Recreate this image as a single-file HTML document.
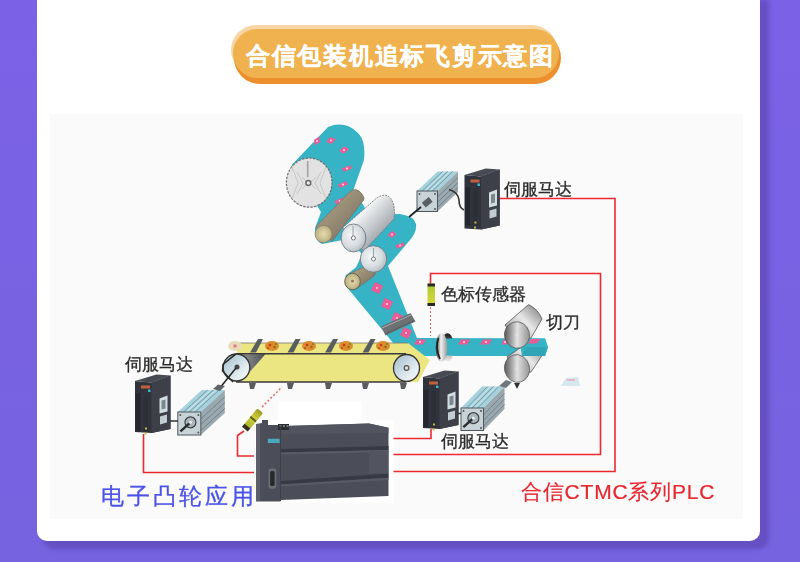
<!DOCTYPE html>
<html><head><meta charset="utf-8">
<style>
html,body{margin:0;padding:0;}
body{width:800px;height:562px;overflow:hidden;position:relative;background:linear-gradient(180deg,#7b61e6 0%,#7663df 100%);font-family:"Liberation Sans",sans-serif;}
.shadow{position:absolute;left:43px;top:0;width:726px;height:549px;background:#6450c2;border-radius:0 0 11px 11px;filter:blur(2px);}
.card{position:absolute;left:37px;top:-20px;width:723px;height:561px;background:#fff;border-radius:10px;}
.pill-hl{position:absolute;left:230.5px;top:25px;width:326px;height:50px;border-radius:25px;background:#f6d6a4;}
.pill-sh{position:absolute;left:234px;top:32px;width:327px;height:51.5px;border-radius:26px;background:#ec8f2d;}
.pill{position:absolute;left:232.7px;top:29.3px;width:326px;height:49.2px;border-radius:24.6px;background:#efb24f;}
.title{position:absolute;left:234.5px;top:29.5px;width:330px;height:52px;line-height:52px;text-align:center;color:#fff;font-weight:bold;font-size:24px;letter-spacing:1.75px;text-indent:1.75px;-webkit-text-stroke:0.25px #fff;}
.panel{position:absolute;left:50px;top:114px;width:693px;height:405px;background:#fafafa;}
svg{position:absolute;left:0;top:0;}
.t{position:absolute;white-space:nowrap;line-height:1;}
.lbl{color:#2a2a2a;font-size:16.5px;-webkit-text-stroke:0.3px #2a2a2a;}
body>div.t{will-change:transform;}
</style></head><body>
<div class="shadow"></div>
<div class="card"></div>
<div class="pill-hl"></div>
<div class="pill-sh"></div>
<div class="pill"></div>
<div class="title">合信包装机追标飞剪示意图</div>
<div class="panel"></div>
<svg width="800" height="562" viewBox="0 0 800 562">
<defs>
  <linearGradient id="pul" x1="0" y1="0" x2="1" y2="1"><stop offset="0" stop-color="#9fbccb"/><stop offset="0.7" stop-color="#e6eef2"/><stop offset="1" stop-color="#f4f7f8"/></linearGradient>
  <linearGradient id="tri" x1="0" y1="0" x2="1" y2="0"><stop offset="0" stop-color="#c4c4c4"/><stop offset="1" stop-color="#4e5054"/></linearGradient>
  <linearGradient id="silv" x1="0" y1="0" x2="1" y2="1">
    <stop offset="0" stop-color="#d9dcdf"/><stop offset="0.35" stop-color="#f0f2f3"/><stop offset="0.7" stop-color="#a9aeb3"/><stop offset="1" stop-color="#868b90"/>
  </linearGradient>
  <linearGradient id="gold" x1="0" y1="0" x2="1" y2="1">
    <stop offset="0" stop-color="#b9ae8c"/><stop offset="0.5" stop-color="#958a73"/><stop offset="1" stop-color="#6f6a60"/>
  </linearGradient>
  <radialGradient id="disc" cx="0.4" cy="0.4" r="0.7">
    <stop offset="0" stop-color="#f4f6f7"/><stop offset="0.6" stop-color="#d5dbdf"/><stop offset="1" stop-color="#a9b2b8"/>
  </radialGradient>
  <radialGradient id="gcap" cx="0.5" cy="0.5" r="0.6">
    <stop offset="0" stop-color="#e6dcae"/><stop offset="1" stop-color="#b1a576"/>
  </radialGradient>
  <linearGradient id="knife" x1="0" y1="0" x2="1" y2="0.3">
    <stop offset="0" stop-color="#3a3a3a"/><stop offset="0.3" stop-color="#8a8a8a"/><stop offset="0.6" stop-color="#e2e2e2"/><stop offset="1" stop-color="#a0a0a0"/>
  </linearGradient>
  <linearGradient id="kbody" x1="0" y1="1" x2="1" y2="0">
    <stop offset="0" stop-color="#4a4a4a"/><stop offset="0.3" stop-color="#bdbdbd"/><stop offset="0.55" stop-color="#e8e8e8"/><stop offset="0.8" stop-color="#a8a8a8"/><stop offset="1" stop-color="#6a6a6a"/>
  </linearGradient>
  <linearGradient id="ring" x1="0" y1="0" x2="1" y2="0">
    <stop offset="0" stop-color="#3a3a3a"/><stop offset="0.5" stop-color="#8a8a8a"/><stop offset="1" stop-color="#efefef"/>
  </linearGradient>
  <linearGradient id="sens" x1="0" y1="0" x2="0" y2="1">
    <stop offset="0" stop-color="#a9c935"/><stop offset="1" stop-color="#dcd83a"/>
  </linearGradient>
</defs>
<!-- red wires -->
<g fill="none" stroke="#ea2a30" stroke-width="1.6">
  <path d="M499,198.5 H615 V471.5 H392"/>
  <path d="M430.5,284 V273.5 H600.5 V454.5 H392"/>
  <path d="M431,429 V438.5 H392"/>
  <path d="M143.5,434 V472.5 H254"/>
  <path d="M244,431 L237.5,435.5 V456 H254"/>
</g>
<g fill="none" stroke="#e36060" stroke-width="1" stroke-dasharray="2,2">
  <path d="M430.5,307 V336"/>
  <path d="M262,407 L282,387" stroke-width="1.4"/>
</g>
<!-- web bands -->
<g fill="#36b4c5">
  <path d="M291.6,165 L328,127 Q345,120 358,133 Q366,141 364,160 L353,191 L362,203 L366,210 L350,232 L343,240 L322,244 Q314,240 315,228 L321,212 Z"/>
  <path d="M340,232 L372,214 L400,214 Q414,216 416,224 Q417,232 410,240 L388,266 L417,338 L545,338.5 L548,347.5 L545,356 L404,356 L345,285 L355,270 L362,254 Z"/>
</g>
<!-- pink marks -->
<g fill="#ea5c95">
<path d="M313.0,143.5 L315.0,138.5 L321.0,138.5 L319.0,143.5 Z" transform="rotate(-30 317 141)"/>
<path d="M327.0,143.5 L329.0,137.5 L335.0,137.5 L333.0,143.5 Z" transform="rotate(20 331 140.5)"/>
<path d="M340.5,153.5 L342.25,146.5 L347.5,146.5 L345.75,153.5 Z" transform="rotate(40 344 150)"/>
<path d="M344.5,173.0 L345.75,164.0 L349.5,164.0 L348.25,173.0 Z" transform="rotate(60 347 168.5)"/>
<path d="M340.5,189.0 L341.75,180.0 L345.5,180.0 L344.25,189.0 Z" transform="rotate(60 343 184.5)"/>
<path d="M337.0,205.5 L338.25,196.5 L342.0,196.5 L340.75,205.5 Z" transform="rotate(60 339.5 201)"/>
<path d="M374.5,234.5 L376.25,229.5 L381.5,229.5 L379.75,234.5 Z" transform="rotate(20 378 232)"/>
<path d="M388.5,237.5 L390.25,231.5 L395.5,231.5 L393.75,237.5 Z" transform="rotate(30 392 234.5)"/>
<path d="M397.5,249.6 L398.75,241.6 L402.5,241.6 L401.25,249.6 Z" transform="rotate(60 400 245.6)"/>
<rect x="372.5" y="283.5" width="9" height="9" transform="rotate(25 377 288)"/>
<rect x="382.5" y="299.5" width="9" height="9" transform="rotate(25 387 304)"/>
<rect x="392.5" y="313.5" width="9" height="9" transform="rotate(25 397 318)"/>
<rect x="401.5" y="328.5" width="9" height="9" transform="rotate(25 406 333)"/>
<path d="M414.0,344.5 L417.0,339.5 L426.0,339.5 L423.0,344.5 Z" transform="rotate(0 420 342)"/>
<path d="M458.0,344.5 L461.0,339.5 L470.0,339.5 L467.0,344.5 Z" transform="rotate(0 464 342)"/>
<path d="M480.0,344.5 L483.0,339.5 L492.0,339.5 L489.0,344.5 Z" transform="rotate(0 486 342)"/>
<path d="M501.5,344.5 L503.25,339.5 L508.5,339.5 L506.75,344.5 Z" transform="rotate(0 505 342)"/>
<path d="M528.0,344.0 L530.5,339.0 L538.0,339.0 L535.5,344.0 Z" transform="rotate(0 533 341.5)"/>
</g>
<g fill="#fff" opacity="0.75"><circle cx="317" cy="141" r="1"/><circle cx="331" cy="140.5" r="1"/><circle cx="344" cy="150" r="1"/><circle cx="347" cy="168.5" r="1"/><circle cx="343" cy="184.5" r="1"/><circle cx="339.5" cy="201" r="1"/><circle cx="378" cy="232" r="1"/><circle cx="392" cy="234.5" r="1"/><circle cx="400" cy="245.6" r="1"/><circle cx="377" cy="288" r="1"/><circle cx="387" cy="304" r="1"/><circle cx="397" cy="318" r="1"/><circle cx="406" cy="333" r="1"/><circle cx="420" cy="342" r="1"/><circle cx="464" cy="342" r="1"/><circle cx="486" cy="342" r="1"/><circle cx="505" cy="342" r="1"/><circle cx="533" cy="341.5" r="1"/></g>
<!-- top roll disc -->
<ellipse cx="309.2" cy="182.6" rx="22.8" ry="24.6" fill="#e2e2e2" stroke="#6e6e6e" stroke-width="1.2" stroke-dasharray="2.5,1.2"/>
<g stroke="#c2c2c2" stroke-width="0.9" fill="none">
  <path d="M302,177 L308,183 L302,189"/><path d="M316,177 L310,183 L316,189"/><path d="M297,172 L303,183 L297,194"/><path d="M321,172 L315,183 L321,194"/><path d="M292,167 L298,183 L292,199"/><path d="M326,167 L320,183 L326,199"/>
</g>
<line x1="307.7" y1="161" x2="307.7" y2="177" stroke="#a8a8a8" stroke-width="1.8"/>
<circle cx="308.3" cy="183" r="2.4" fill="#eee" stroke="#666" stroke-width="1.5"/>
<!-- gold roller 1 -->
<path d="M316,226.6 L349,192.4 Q356,186 362,194 Q366,199 362,202 L332,241.5 Z" fill="url(#gold)" stroke="#6d6a62" stroke-width="0.6"/>
<ellipse cx="323.5" cy="234" rx="8.5" ry="8.6" fill="url(#gcap)" stroke="#7a7560" stroke-width="0.6"/>
<!-- silver roller 2 -->
<path d="M342.7,227.7 L376.9,197.8 Q390,190 394,206 Q395,214 394,219 L364,251 Z" fill="url(#silv)" stroke="#6b6f73" stroke-width="0.8" stroke-dasharray="2,1"/>
<ellipse cx="353.5" cy="238" rx="12.4" ry="14" fill="url(#disc)" stroke="#6b6f73" stroke-width="0.8"/>
<line x1="353" y1="226" x2="353" y2="236" stroke="#9aa3a8" stroke-width="1"/>
<circle cx="353.4" cy="238" r="2" fill="#fff" stroke="#777" stroke-width="1"/>
<!-- gold roller 4 -->
<path d="M345,276 L360.5,263.8 L376,268 L372,276 L358,290 Z" fill="#36b4c5"/>
<path d="M349,274 L366,266 Q375,264 376,271 Q376,276 370,279 L356,289 Z" fill="url(#gold)" stroke="#6d6a62" stroke-width="0.6"/>
<ellipse cx="352.5" cy="281.5" rx="7.8" ry="8.2" fill="url(#gcap)" stroke="#5d5a50" stroke-width="0.9"/>
<circle cx="352.5" cy="281" r="1.6" fill="#8a8060"/>
<!-- silver small roller 3 -->
<ellipse cx="373.5" cy="259" rx="13.2" ry="13.3" fill="url(#disc)" stroke="#6b6f73" stroke-width="0.8"/>
<line x1="373.5" y1="248" x2="373.5" y2="257" stroke="#9aa3a8" stroke-width="1"/>
<circle cx="373.5" cy="259" r="2" fill="#fff" stroke="#777" stroke-width="1"/>
<!-- guide bracket -->
<path d="M381,326.5 L410.5,313 L415.5,321.5 L385.5,335.5 Z" fill="#6e7174"/>
<path d="M382,328 L411.5,314.8" stroke="#a9acae" stroke-width="1"/><path d="M385,334 L414.5,320.5" stroke="#55585b" stroke-width="1"/>
<!-- ring -->
<linearGradient id="ringback" x1="0" y1="0" x2="0" y2="1"><stop offset="0" stop-color="#1e1e1e"/><stop offset="0.5" stop-color="#777"/><stop offset="1" stop-color="#f4f4f4"/></linearGradient>
<linearGradient id="ringfront" x1="0" y1="0" x2="1" y2="0"><stop offset="0" stop-color="#2a2a2a"/><stop offset="0.45" stop-color="#f2f2f2"/><stop offset="1" stop-color="#9a9a9a"/></linearGradient>
<ellipse cx="447.5" cy="347.5" rx="6.5" ry="14.3" fill="url(#ringback)"/>
<rect x="440" y="338.5" width="15" height="17" fill="#36b4c5"/>
<ellipse cx="441.5" cy="347.5" rx="5.8" ry="14.3" fill="url(#ringfront)"/>
<path d="M438.5,338 Q435,348 440,359" fill="none" stroke="#1e1e1e" stroke-width="1.6"/>
<!-- color sensor -->
<rect x="427.5" y="283.5" width="7.5" height="22.5" rx="1.5" fill="url(#sens)"/>
<rect x="427.5" y="283.5" width="7.5" height="3" fill="#2a2a2a"/>
<rect x="427.5" y="303" width="7.5" height="3" fill="#2a2a2a"/>
<!-- knife rollers -->
<path d="M507,357 L530,341 Q538,345 542,355.5 L531,372 L517,376 Z" fill="url(#kbody)" stroke="#444" stroke-width="0.7"/>
<ellipse cx="517" cy="368.5" rx="12.5" ry="14" fill="url(#knife)" stroke="#555" stroke-width="0.7" transform="rotate(-15 517 368.5)"/>
<circle cx="517" cy="368.5" r="1.8" fill="#e0e0e0"/>
<path d="M514,383 L520,383 L517,389 Z" fill="#333"/>
<path d="M519,338.5 L545,338.5 L548,347.5 L545,356 L522,356 Z" fill="#36b4c5"/>
<path d="M526,347 L546,347 L545,356 L522,356 Z" fill="#2fa5b6"/>
<path d="M528,343.5 L531,339 L540,339 L537,343.5 Z" fill="#ea5c95"/>
<path d="M505,325 L528.5,304.6 Q538,309 542,319 L531,338 L517,342 Z" fill="url(#kbody)" stroke="#444" stroke-width="0.7"/>
<ellipse cx="517" cy="335" rx="12.5" ry="13.3" fill="url(#knife)" stroke="#555" stroke-width="0.7" transform="rotate(-15 517 335)"/>
<circle cx="517" cy="335" r="1.8" fill="#e0e0e0"/>
<!-- cut piece faint -->
<path d="M561,386 L566,378 L578,377 L580,386 Z" fill="#c5dfe8" opacity="0.7"/><rect x="567" y="379" width="8" height="2" fill="#f0a0b8" opacity="0.7"/>
<!-- conveyor -->
<g>
  <path d="M236,343 L408,343 L430,360 L418,382 L241,382 Z" fill="#ebe582"/>
  <path d="M223,368 A13.5,13.5 0 0 1 236,354.5 L265.5,354 L241,382 L236,381.5 A13.5,13.5 0 0 1 223,368 Z" fill="url(#tri)"/>
  <line x1="236" y1="353.8" x2="406" y2="353.8" stroke="#3a3a3a" stroke-width="1.4"/>
  <line x1="236" y1="382" x2="406" y2="382" stroke="#3a3a3a" stroke-width="1.4"/>
  <line x1="236" y1="343" x2="408" y2="343" stroke="#777" stroke-width="0.8"/>
  <ellipse cx="236.5" cy="367.5" rx="13.3" ry="13.5" fill="url(#pul)" stroke="#333" stroke-width="1.3"/><path d="M236,353.8 L223,364.5 L222.5,371 L233,382" fill="none" stroke="#2a2a2a" stroke-width="1.5"/>
  <ellipse cx="406.5" cy="368" rx="13" ry="13.5" fill="url(#pul)" stroke="#333" stroke-width="1.3"/>
  <circle cx="237" cy="367" r="2.5" fill="#444"/>
  <circle cx="406.5" cy="368" r="2.4" fill="#ddd" stroke="#555" stroke-width="1.2"/>
</g>
<g fill="#5a5d60">
  <path d="M250,352.5 L258,339 L263,339 L256,352.5 Z"/>
  <path d="M287.5,352.5 L295.5,339 L300.5,339 L293.5,352.5 Z"/>
  <path d="M325,352.5 L333,339 L338,339 L331,352.5 Z"/>
  <path d="M362.5,352.5 L370.5,339 L375.5,339 L368.5,352.5 Z"/>
  <path d="M249,383 L256,383 L254,389 L250,389 Z"/>
  <path d="M287,383 L294,383 L292,389 L288,389 Z"/>
  <path d="M325,383 L332,383 L330,389 L326,389 Z"/>
  <path d="M362,383 L369,383 L367,389 L363,389 Z"/>
  <path d="M400,383 L407,383 L405,389 L401,389 Z"/>
</g>
<g fill="#dc8c2c"><ellipse cx="272" cy="346" rx="7" ry="5"/><ellipse cx="309" cy="346" rx="7" ry="5"/><ellipse cx="346" cy="346" rx="7" ry="5"/><ellipse cx="383" cy="346" rx="7" ry="5"/></g>
<g><circle cx="270" cy="345" r="1.3" fill="#c83a1e"/><circle cx="274.5" cy="347" r="1.2" fill="#8a6a20"/><circle cx="268" cy="348" r="1" fill="#b0501e"/><circle cx="276" cy="344" r="1" fill="#6a8a30"/><circle cx="307" cy="345" r="1.3" fill="#c83a1e"/><circle cx="311.5" cy="347" r="1.2" fill="#8a6a20"/><circle cx="305" cy="348" r="1" fill="#b0501e"/><circle cx="313" cy="344" r="1" fill="#6a8a30"/><circle cx="344" cy="345" r="1.3" fill="#c83a1e"/><circle cx="348.5" cy="347" r="1.2" fill="#8a6a20"/><circle cx="342" cy="348" r="1" fill="#b0501e"/><circle cx="350" cy="344" r="1" fill="#6a8a30"/><circle cx="381" cy="345" r="1.3" fill="#c83a1e"/><circle cx="385.5" cy="347" r="1.2" fill="#8a6a20"/><circle cx="379" cy="348" r="1" fill="#b0501e"/><circle cx="387" cy="344" r="1" fill="#6a8a30"/></g>
<ellipse cx="235" cy="346" rx="6.8" ry="5" fill="#e8dcb8"/><circle cx="235" cy="346" r="1.8" fill="#e87a9a"/>

<g>
<path d="M417,191 L437.5,171.4 L458.0,171.4 L437.5,191 Z" fill="#a6d2de"/>
<path d="M437.5,191 L458.0,171.4 L458.0,191.9 L437.5,211.5 Z" fill="#9aa8af"/>
<g stroke="#6f8b96" stroke-width="0.8">
<line x1="422.125" y1="191" x2="442.625" y2="171.4"/>
<line x1="427.25" y1="191" x2="447.75" y2="171.4"/>
<line x1="432.375" y1="191" x2="452.875" y2="171.4"/>
</g>
<g stroke="#d8eef4" stroke-width="0.8">
<line x1="424.79" y1="191" x2="445.29" y2="171.4"/>
<line x1="429.71" y1="191" x2="450.21" y2="171.4"/>
</g>
<g stroke="#6b767c" stroke-width="0.8">
<line x1="437.5" y1="197.15" x2="458.0" y2="177.55"/>
<line x1="437.5" y1="202.275" x2="458.0" y2="182.675"/>
<line x1="437.5" y1="207.4" x2="458.0" y2="187.8"/>
</g>
<rect x="417" y="191" width="20.5" height="20.5" fill="#c8d3d7" stroke="#4d565c" stroke-width="1"/>
<g fill="#555"><circle cx="419.5" cy="194" r="1"/><circle cx="435.0" cy="194" r="1"/><circle cx="435.0" cy="209.0" r="1"/></g>
<rect x="422.75" y="199.275" width="9" height="6" fill="#5a5f63" transform="rotate(-40 427.25 202.275)"/></g>
<path d="M449,189.5 Q458,192 459,200 Q459,208 464,210" fill="none" stroke="#333" stroke-width="1.6"/>
<path d="M421,207 L409,217" stroke="#222" stroke-width="1.8"/>
<g transform="translate(464.5,169.5)">
<path d="M0,5.5 L16.5,7 L35.2,0 L35.2,56 L16.5,60 L0,59 Z" fill="#30333b"/>
<path d="M16.5,7 L35.2,0 L35.2,56 L16.5,60 Z" fill="#3d4049"/>
<path d="M0,5.5 L16.5,7 L35.2,0 L21.200000000000003,-1 Z" fill="#474a53"/>
<rect x="6" y="10" width="9" height="3" fill="#c0603e"/>
<rect x="13" y="14" width="2.5" height="2.5" fill="#3fb7c8"/>
<rect x="0.5" y="18" width="5" height="38" fill="#25272e"/>
<rect x="9" y="20" width="4" height="36" fill="#2c2f36"/>
<rect x="10" y="52" width="2" height="2" fill="#c9b64a"/><rect x="9.5" y="57" width="2" height="2" fill="#c9b64a"/>
<path d="M24.5,23 L32.5,20 L32.5,36 L24.5,38 Z" fill="#d3dde2"/>
<path d="M26.5,25 L30.5,24 L30.5,33 L26.5,34 Z" fill="#7d878e"/>
<path d="M25.0,41 L32.0,39 L32.0,47 L25.0,49 Z" fill="#c3ccd2"/>

</g>
<g>
<path d="M177.8,412 L201.8,390 L224.8,390 L200.8,412 Z" fill="#a6d2de"/>
<path d="M200.8,412 L224.8,390 L224.8,413 L200.8,435 Z" fill="#9aa8af"/>
<g stroke="#6f8b96" stroke-width="0.8">
<line x1="183.55" y1="412" x2="207.55" y2="390"/>
<line x1="189.3" y1="412" x2="213.3" y2="390"/>
<line x1="195.05" y1="412" x2="219.05" y2="390"/>
</g>
<g stroke="#d8eef4" stroke-width="0.8">
<line x1="186.54000000000002" y1="412" x2="210.54000000000002" y2="390"/>
<line x1="192.06" y1="412" x2="216.06" y2="390"/>
</g>
<g stroke="#6b767c" stroke-width="0.8">
<line x1="200.8" y1="418.9" x2="224.8" y2="396.9"/>
<line x1="200.8" y1="424.65" x2="224.8" y2="402.65"/>
<line x1="200.8" y1="430.4" x2="224.8" y2="408.4"/>
</g>
<rect x="177.8" y="412" width="23" height="23" fill="#c8d3d7" stroke="#4d565c" stroke-width="1"/>
<g fill="#555"><circle cx="180.3" cy="415" r="1"/><circle cx="198.3" cy="415" r="1"/><circle cx="198.3" cy="432.5" r="1"/></g>
<circle cx="190.45000000000002" cy="422.35" r="5.5" fill="#aab6bc" stroke="#3a3f44" stroke-width="1.2"/><line x1="190.45000000000002" y1="422.35" x2="180.45000000000002" y2="431.35" stroke="#2a2a2a" stroke-width="2.4"/><circle cx="190.45000000000002" cy="422.35" r="1.6" fill="#e8eef0"/></g>
<path d="M170,421 L178,421" stroke="#333" stroke-width="1.5"/>
<path d="M219,389 L236,368" stroke="#222" stroke-width="1.5"/><path d="M213,389 L218,384.5 L225,386 L220,391 Z" fill="#5f6468"/>
<g transform="translate(135,375.5)">
<path d="M0,5.5 L16.5,7 L35.5,0 L35.5,53.5 L16.5,57.5 L0,56.5 Z" fill="#30333b"/>
<path d="M16.5,7 L35.5,0 L35.5,53.5 L16.5,57.5 Z" fill="#3d4049"/>
<path d="M0,5.5 L16.5,7 L35.5,0 L21.5,-1 Z" fill="#474a53"/>
<rect x="6" y="10" width="9" height="3" fill="#c0603e"/>
<rect x="13" y="14" width="2.5" height="2.5" fill="#3fb7c8"/>
<rect x="0.5" y="18" width="5" height="38" fill="#25272e"/>
<rect x="9" y="20" width="4" height="36" fill="#2c2f36"/>
<rect x="10" y="52" width="2" height="2" fill="#c9b64a"/><rect x="9.5" y="57" width="2" height="2" fill="#c9b64a"/>
<path d="M24.5,23 L32.5,20 L32.5,36 L24.5,38 Z" fill="#d3dde2"/>
<path d="M26.5,25 L30.5,24 L30.5,33 L26.5,34 Z" fill="#7d878e"/>
<path d="M25.0,41 L32.0,39 L32.0,47 L25.0,49 Z" fill="#c3ccd2"/>

</g>
<g>
<path d="M461,408 L482,386.5 L504.5,386.5 L483.5,408 Z" fill="#a6d2de"/>
<path d="M483.5,408 L504.5,386.5 L504.5,409.0 L483.5,430.5 Z" fill="#9aa8af"/>
<g stroke="#6f8b96" stroke-width="0.8">
<line x1="466.625" y1="408" x2="487.625" y2="386.5"/>
<line x1="472.25" y1="408" x2="493.25" y2="386.5"/>
<line x1="477.875" y1="408" x2="498.875" y2="386.5"/>
</g>
<g stroke="#d8eef4" stroke-width="0.8">
<line x1="469.55" y1="408" x2="490.55" y2="386.5"/>
<line x1="474.95" y1="408" x2="495.95" y2="386.5"/>
</g>
<g stroke="#6b767c" stroke-width="0.8">
<line x1="483.5" y1="414.75" x2="504.5" y2="393.25"/>
<line x1="483.5" y1="420.375" x2="504.5" y2="398.875"/>
<line x1="483.5" y1="426.0" x2="504.5" y2="404.5"/>
</g>
<rect x="461" y="408" width="22.5" height="22.5" fill="#c8d3d7" stroke="#4d565c" stroke-width="1"/>
<g fill="#555"><circle cx="463.5" cy="411" r="1"/><circle cx="481.0" cy="411" r="1"/><circle cx="481.0" cy="428.0" r="1"/></g>
<circle cx="473.375" cy="418.125" r="5.5" fill="#aab6bc" stroke="#3a3f44" stroke-width="1.2"/><line x1="473.375" y1="418.125" x2="463.375" y2="427.125" stroke="#2a2a2a" stroke-width="2.4"/><circle cx="473.375" cy="418.125" r="1.6" fill="#e8eef0"/></g>
<path d="M458,413.5 L461,413.5" stroke="#333" stroke-width="1.5"/>
<path d="M499,386 L506,380 L512,382 L506,388 Z" fill="#6d777c"/>
<g transform="translate(423,371.5)">
<path d="M0,5.5 L16.5,7 L35.5,0 L35.5,53.5 L16.5,57.5 L0,56.5 Z" fill="#30333b"/>
<path d="M16.5,7 L35.5,0 L35.5,53.5 L16.5,57.5 Z" fill="#3d4049"/>
<path d="M0,5.5 L16.5,7 L35.5,0 L21.5,-1 Z" fill="#474a53"/>
<rect x="6" y="10" width="9" height="3" fill="#c0603e"/>
<rect x="13" y="14" width="2.5" height="2.5" fill="#3fb7c8"/>
<rect x="0.5" y="18" width="5" height="38" fill="#25272e"/>
<rect x="9" y="20" width="4" height="36" fill="#2c2f36"/>
<rect x="10" y="52" width="2" height="2" fill="#c9b64a"/><rect x="9.5" y="57" width="2" height="2" fill="#c9b64a"/>
<path d="M24.5,23 L32.5,20 L32.5,36 L24.5,38 Z" fill="#d3dde2"/>
<path d="M26.5,25 L30.5,24 L30.5,33 L26.5,34 Z" fill="#7d878e"/>
<path d="M25.0,41 L32.0,39 L32.0,47 L25.0,49 Z" fill="#c3ccd2"/>

</g>
<rect x="278" y="401.5" width="84" height="20" fill="#ffffff"/><rect x="255" y="420" width="138.5" height="83" fill="#ffffff"/>
<path d="M256,424 L262,423 L262,420 L268,420 L268,425 L278,425 L278,424 L289,424 L289,426 L369,423.5 L388.5,427.8 L388.5,496 L280.5,500 L280.5,501.4 L256,501.4 Z" fill="#4b4e59"/>
<rect x="256" y="424" width="4" height="77" fill="#5c5f6a"/>
<path d="M280.5,426 L369,423.5 L388.5,427.8 L388.5,433 L280.5,434 Z" fill="#52555f"/>
<path d="M280.5,449 L388.5,446 L388.5,450 L280.5,452.5 Z" fill="#373a44"/>
<path d="M280.5,452.5 L388.5,450 L388.5,452 L280.5,454.5 Z" fill="#5a5d67"/>
<path d="M280.5,481 L388.5,473.5 L388.5,477.7 L280.5,484.5 Z" fill="#373a44"/>
<path d="M280.5,484.5 L388.5,477.7 L388.5,480 L280.5,486.5 Z" fill="#585b65"/>
<rect x="369" y="451" width="19.5" height="22.5" fill="#525560"/>
<rect x="278" y="424" width="11" height="6" fill="#2a2d30"/>
<rect x="279.5" y="425" width="2" height="2" fill="#777"/><rect x="283" y="425" width="2" height="2" fill="#777"/><rect x="286.5" y="425" width="2" height="2" fill="#777"/>
<rect x="267.8" y="438.8" width="11.8" height="4.2" fill="#4aa9bd"/>
<rect x="268.6" y="468.4" width="7.6" height="20.3" rx="2" fill="#6a6f74"/>
<rect x="270.2" y="471" width="4.4" height="15" rx="1.5" fill="#25282b"/>
<line x1="280.5" y1="426" x2="280.5" y2="501" stroke="#3c3f48" stroke-width="1"/>
<linearGradient id="sens2" x1="0" y1="0" x2="1" y2="0"><stop offset="0" stop-color="#a8b52a"/><stop offset="0.6" stop-color="#d0cd3a"/><stop offset="1" stop-color="#9a9a28"/></linearGradient>
<!-- sensor 2 -->
<g transform="rotate(-50 253 419)">
  <rect x="242" y="415.5" width="22" height="7.5" rx="2" fill="url(#sens2)"/><rect x="252" y="415.5" width="2" height="7.5" fill="#5a5a20"/>
  <rect x="240" y="415.5" width="4" height="7.5" fill="#33301f"/>
</g>

</svg>
<div class="t lbl" style="left:504px;top:181px;">伺服马达</div>
<div class="t lbl" style="left:440.5px;top:285.5px;">色标传感器</div>
<div class="t lbl" style="left:546px;top:314px;">切刀</div>
<div class="t lbl" style="left:125px;top:356px;">伺服马达</div>
<div class="t lbl" style="left:441px;top:433px;">伺服马达</div>
<div class="t" style="left:100.5px;top:486px;font-size:22.5px;color:#4a52e8;letter-spacing:3px;-webkit-text-stroke:0.3px #4a52e8;">电子凸轮应用</div>
<div class="t" style="left:521px;top:481px;font-size:21px;color:#e8262e;letter-spacing:0.8px;-webkit-text-stroke:0.2px #e8262e;">合信CTMC系列PLC</div>
</body></html>
